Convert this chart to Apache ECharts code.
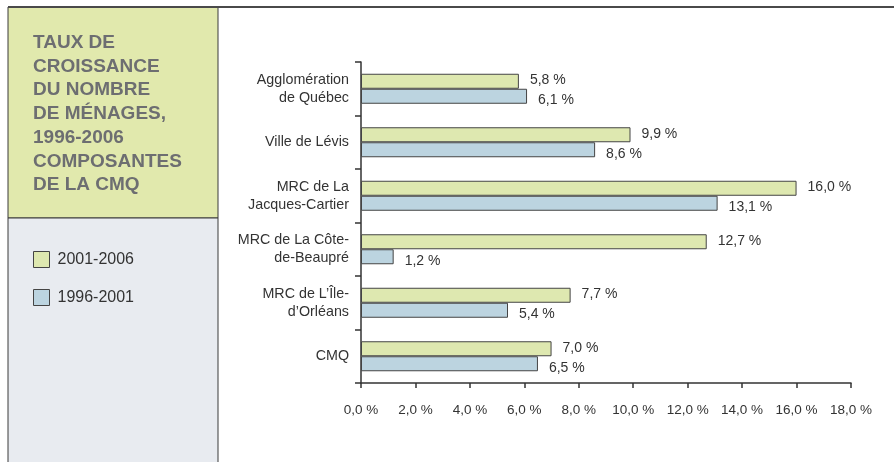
<!DOCTYPE html>
<html>
<head>
<meta charset="utf-8">
<script src="https://cdn.jsdelivr.net/npm/echarts@6/dist/echarts.min.js"></script>
<style>
html,body{margin:0;padding:0;background:#fff;}
#chart{width:894px;height:462px;}
</style>
</head>
<body>
<div id="chart"></div>
<script>
const categories = [
  "Agglomération\nde Québec",
  "Ville de Lévis",
  "MRC de La\nJacques-Cartier",
  "MRC de La Côte-\nde-Beaupré",
  "MRC de L’Île-\nd’Orléans",
  "CMQ"
];
const series2001_2006 = [5.8, 9.9, 16.0, 12.7, 7.7, 7.0];
const series1996_2001 = [6.1, 8.6, 13.1, 1.2, 5.4, 6.5];
const seriesNames = ["2001-2006", "1996-2001"];
const titleText = "TAUX DE\nCROISSANCE\nDU NOMBRE\nDE MÉNAGES,\n1996-2006\nCOMPOSANTES\nDE LA CMQ";

const FONT = "Liberation Sans, Arial, Helvetica, sans-serif";
const fmt = v => v.toFixed(1).replace('.', ',') + ' %';

const chart = echarts.init(document.getElementById('chart'));
chart.setOption({
  animation: false,
  backgroundColor: '#fff',
  textStyle: { fontFamily: FONT },
  graphic: [
    { type: 'rect', z: -10, shape: { x: 8, y: 7, width: 210, height: 211 }, style: { fill: '#e1e9ad', stroke: '#3a3a3a', lineWidth: 1 } },
    { type: 'rect', z: -10, shape: { x: 8, y: 218, width: 210, height: 250 }, style: { fill: '#e8ebf0', stroke: '#3a3a3a', lineWidth: 1 } },
    { type: 'line', z: -5, shape: { x1: 8, y1: 7, x2: 894, y2: 7 }, style: { stroke: '#4a4a4a', lineWidth: 2 } },
    { type: 'text', left: 33, top: 31, style: { text: titleText, font: 'bold 19px ' + FONT, fill: '#6d6e71', lineHeight: 23.7 } }
  ],
  legend: {
    orient: 'vertical',
    left: 33, top: 251, padding: 0,
    itemWidth: 16, itemHeight: 16, itemGap: 21,
    icon: 'rect',
    data: seriesNames,
    textStyle: { fontSize: 16, color: '#333', fontFamily: FONT, padding: [0, 0, 0, 3] },
    itemStyle: { borderColor: '#444', borderWidth: 1 }
  },
  grid: { left: 361, right: 43, top: 62, bottom: 79, containLabel: false },
  xAxis: {
    type: 'value', min: 0, max: 18, interval: 2,
    axisLine: { show: true, lineStyle: { color: '#333', width: 1.5 } },
    axisTick: { show: true, length: 5, lineStyle: { color: '#333', width: 1.5 } },
    splitLine: { show: false },
    axisLabel: { formatter: v => fmt(v), fontSize: 13.5, color: '#333', margin: 20, fontFamily: FONT }
  },
  yAxis: {
    type: 'category', data: categories, inverse: true,
    axisLine: { show: true, lineStyle: { color: '#333', width: 1.5 } },
    axisTick: { show: true, length: 6, lineStyle: { color: '#333', width: 1.5 } },
    axisLabel: { fontSize: 14.3, color: '#333', margin: 12, lineHeight: 18, align: 'right', fontFamily: FONT }
  },
  series: [
    {
      name: seriesNames[0], type: 'bar', data: series2001_2006,
      barWidth: 15, barGap: '0%',
      itemStyle: { color: '#dee8b0', borderColor: '#444', borderWidth: 1 },
      label: { show: true, position: 'right', distance: 11, offset: [0, -1], formatter: p => fmt(p.value), fontSize: 14, color: '#333', fontFamily: FONT }
    },
    {
      name: seriesNames[1], type: 'bar', data: series1996_2001,
      barWidth: 15, barGap: '0%',
      itemStyle: { color: '#bcd4e0', borderColor: '#444', borderWidth: 1 },
      label: { show: true, position: 'right', distance: 11, offset: [0, 4], formatter: p => fmt(p.value), fontSize: 14, color: '#333', fontFamily: FONT }
    }
  ]
});
</script>
</body>
</html>
